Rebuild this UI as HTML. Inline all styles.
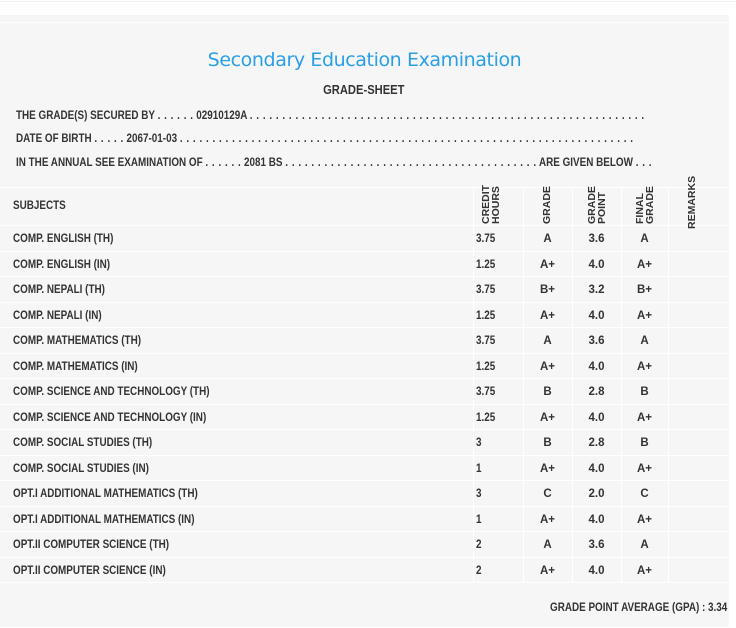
<!DOCTYPE html>
<html><head><style>
body{margin:0;width:736px;height:627px;background:#fff;position:relative;overflow:hidden;font-family:"Liberation Sans",sans-serif;color:#333;}
.panel{position:absolute;left:0;top:15px;width:729px;height:612px;background:#f6f6f6;}
.inner{position:absolute;left:0;top:22px;width:729px;height:605px;border-top:1px solid #fff;border-right:1px solid #fff;}
.t{position:absolute;white-space:nowrap;font-size:11.5px;font-weight:bold;transform:scaleX(0.86);transform-origin:left top;}
.d{letter-spacing:0.6px}
.title{position:absolute;left:0;width:729px;top:49px;text-align:center;font-family:"DejaVu Sans","Liberation Sans",sans-serif;font-size:19px;letter-spacing:-0.4px;color:#2a9fe8;}
.hl{position:absolute;left:0;width:729px;height:1px;background:#fff;}
.vl{position:absolute;width:1px;background:#fff;top:187px;height:396px;}
.c{position:absolute;text-align:center;font-size:11.5px;font-weight:bold;}
.rot{position:absolute;transform:rotate(-90deg);transform-origin:left top;font-family:"Liberation Sans",sans-serif;font-size:10.5px;font-weight:bold;line-height:9.5px;white-space:nowrap;}
</style></head><body>
<div style="position:absolute;left:0;top:1px;width:736px;height:1px;background:#f2f2f2"></div>
<div class="panel"></div><div class="inner"></div>
<div class="title">Secondary Education Examination</div>
<div class="t" style="left:0;width:846px;text-align:center;top:82px;font-size:13px">GRADE-SHEET</div>
<div class="t" style="left:16px;top:110px">THE GRADE(S) SECURED BY <span class="d">. . . . . .</span> 02910129A <span class="d">. . . . . . . . . . . . . . . . . . . . . . . . . . . . . . . . . . . . . . . . . . . . . . . . . . . . . . . . . . . . .</span></div>
<div class="t" style="left:16px;top:133px">DATE OF BIRTH <span class="d">. . . . .</span> 2067-01-03 <span class="d">. . . . . . . . . . . . . . . . . . . . . . . . . . . . . . . . . . . . . . . . . . . . . . . . . . . . . . . . . . . . . . . . . . . . . .</span></div>
<div class="t" style="left:16px;top:157px">IN THE ANNUAL SEE EXAMINATION OF <span class="d">. . . . . .</span> 2081 BS <span class="d">. . . . . . . . . . . . . . . . . . . . . . . . . . . . . . . . . . . . . . .</span> ARE GIVEN BELOW <span class="d">. . .</span></div>
<div class="hl" style="top:187px"></div><div class="hl" style="top:225px"></div>
<div class="vl" style="left:473px"></div><div class="vl" style="left:523px"></div><div class="vl" style="left:572px"></div><div class="vl" style="left:621px"></div><div class="vl" style="left:668px"></div>
<div class="t" style="left:13px;top:200px">SUBJECTS</div>
<div class="rot" style="left:482px;top:224px">CREDIT<br>HOURS</div>
<div class="rot" style="left:543px;top:224px">GRADE</div>
<div class="rot" style="left:588px;top:224px">GRADE<br>POINT</div>
<div class="rot" style="left:636px;top:224px">FINAL<br>GRADE</div>
<div class="rot" style="left:688px;top:229px">REMARKS</div>
<div id="rows"></div>
<div class="t" style="left:550px;top:602px">GRADE POINT AVERAGE (GPA) : 3.34</div>
<script>
var d=[["COMP. ENGLISH (TH)","3.75","A","3.6","A"],["COMP. ENGLISH (IN)","1.25","A+","4.0","A+"],["COMP. NEPALI (TH)","3.75","B+","3.2","B+"],["COMP. NEPALI (IN)","1.25","A+","4.0","A+"],["COMP. MATHEMATICS (TH)","3.75","A","3.6","A"],["COMP. MATHEMATICS (IN)","1.25","A+","4.0","A+"],["COMP. SCIENCE AND TECHNOLOGY (TH)","3.75","B","2.8","B"],["COMP. SCIENCE AND TECHNOLOGY (IN)","1.25","A+","4.0","A+"],["COMP. SOCIAL STUDIES (TH)","3","B","2.8","B"],["COMP. SOCIAL STUDIES (IN)","1","A+","4.0","A+"],["OPT.I ADDITIONAL MATHEMATICS (TH)","3","C","2.0","C"],["OPT.I ADDITIONAL MATHEMATICS (IN)","1","A+","4.0","A+"],["OPT.II COMPUTER SCIENCE (TH)","2","A","3.6","A"],["OPT.II COMPUTER SCIENCE (IN)","2","A+","4.0","A+"]];
var h="";d.forEach(function(r,i){var y=225+i*25.5;var ty=y+8;
h+='<div class="hl" style="top:'+Math.round(y+25.5)+'px"></div>';
h+='<div class="t" style="left:13px;top:'+ty+'px">'+r[0]+'</div>';
h+='<div class="t" style="left:476px;top:'+ty+'px">'+r[1]+'</div>';
h+='<div class="c" style="left:523px;width:49px;top:'+ty+'px">'+r[2]+'</div>';
h+='<div class="c" style="left:572px;width:49px;top:'+ty+'px">'+r[3]+'</div>';
h+='<div class="c" style="left:621px;width:47px;top:'+ty+'px">'+r[4]+'</div>';});
document.getElementById("rows").innerHTML=h;
</script>
</body></html>
